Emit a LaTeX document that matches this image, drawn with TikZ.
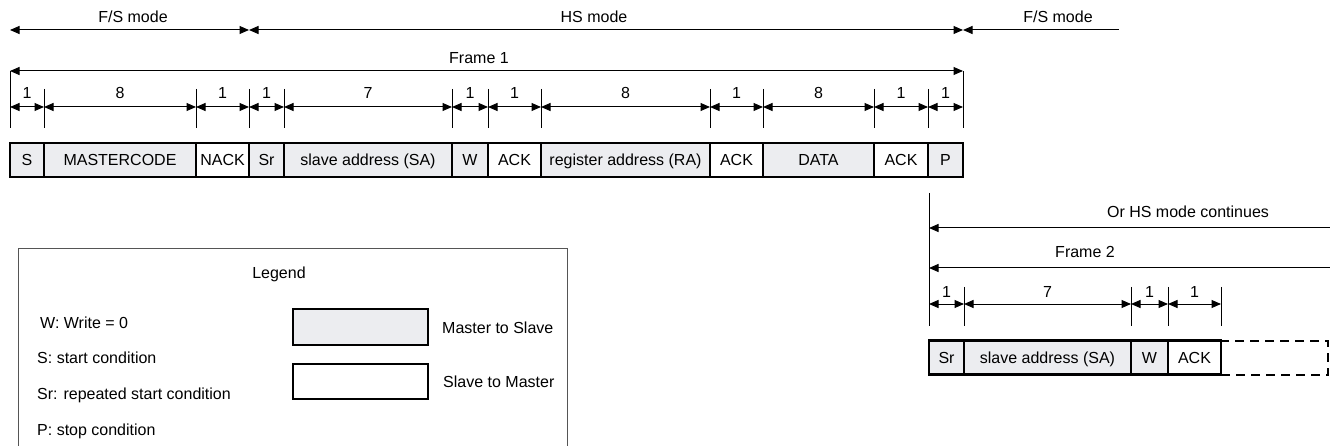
\documentclass[tikz,border=0pt]{standalone}
\usepackage{fontspec}
\setmainfont{Liberation Sans}
\usetikzlibrary{arrows.meta}
\definecolor{boxgray}{RGB}{236,237,240}
\definecolor{legline}{RGB}{85,85,85}
\begin{document}
\begin{tikzpicture}[x=1pt,y=-1pt,
  every node/.style={font=\fontsize{16}{19}\selectfont, inner sep=0pt},
  fieldbox/.style={draw=black, line width=2.4pt, text height=11.5pt, text depth=0pt, minimum height=34pt},
  mtos/.style={fieldbox, fill=boxgray},
  stom/.style={fieldbox, fill=white},
  openbox/.style={draw=black, line width=2pt, dash pattern=on 9pt off 6pt, minimum height=34pt},
  lbl/.style={anchor=base},
  lbll/.style={anchor=base west},
  dimline/.style={line width=1pt, {Triangle[length=9.5pt,width=8pt]}-{Triangle[length=9.5pt,width=8pt]}},
  leftarr/.style={line width=1pt, {Triangle[length=9.5pt,width=8pt]}-},
  tick/.style={line width=1pt}]
\useasboundingbox (0,0) rectangle (1330,446);

% ---------- mode arrows ----------
\coordinate (m0) at (10,30);
\coordinate (m1) at (249,30);
\coordinate (m2) at (963,30);
\coordinate (m3) at (1119,30);
\draw[dimline] (m0) -- (m1);
\draw[dimline] (m1) -- (m2);
\draw[leftarr] (m2) -- (m3);
\node[lbl] (fs1) at (133,23) {F/S mode};
\node[lbl] (hs) at (594,23) {HS mode};
\node[lbl] (fs2) at (1058,23) {F/S mode};

% ---------- frame 1 ----------
\coordinate (f1l) at (10,71);
\coordinate (f1r) at (963,71);
\draw[dimline] (f1l) -- (f1r);
\node[lbl] (fr1) at (479,63.5) {Frame 1};
\draw[tick] (f1l) -- (10,128);
\draw[tick] (f1r) -- (963,128);

% ticks and dimension arrows (frame 1)
\foreach \x [count=\i] in {10,44,196,249,284,452,488,541,710,763,874,928,963}{
  \coordinate (d\i) at (\x,107);
  \draw[tick] (\x,89) -- (\x,128);
}
\foreach \a/\b in {1/2,2/3,3/4,4/5,5/6,6/7,7/8,8/9,9/10,10/11,11/12,12/13}{
  \draw[dimline] (d\a) -- (d\b);
}
\foreach \c/\t [count=\i] in {27/1,120/8,222.5/1,266.5/1,368/7,470/1,514.5/1,625.5/8,736.5/1,818.5/8,901/1,945.5/1}{
  \node[lbl] (n\i) at (\c,98.5) {\t};
}

% ---------- frame 1 fields ----------
\node[mtos, minimum width=34pt]  (s)    at (27,160)    {S};
\node[mtos, minimum width=152pt] (mc)   at (120,160)   {MASTERCODE};
\node[stom, minimum width=53pt]  (nack) at (222.5,160) {NACK};
\node[mtos, minimum width=35pt]  (sr)   at (266.5,160) {Sr};
\node[mtos, minimum width=168pt] (sa)   at (368,160)   {slave address (SA)};
\node[mtos, minimum width=36pt]  (w)    at (470,160)   {W};
\node[stom, minimum width=53pt]  (ack1) at (514.5,160) {ACK};
\node[mtos, minimum width=169pt] (ra)   at (625.5,160) {register address (RA)};
\node[stom, minimum width=53pt]  (ack2) at (736.5,160) {ACK};
\node[mtos, minimum width=111pt] (data) at (818.5,160) {DATA};
\node[stom, minimum width=54pt]  (ack3) at (901,160)   {ACK};
\node[mtos, minimum width=35pt]  (p)    at (945.5,160) {P};

% ---------- frame 2 ----------
\coordinate (v0) at (929,193);
\coordinate (v1) at (929,326);
\draw[tick] (v0) -- (v1);
\coordinate (o0) at (929,228);
\coordinate (o1) at (1331,228);
\draw[leftarr] (o0) -- (o1);
\node[lbl] (ohs) at (1188,218) {Or HS mode continues};
\coordinate (g0) at (929,268);
\coordinate (g1) at (1331,268);
\draw[leftarr] (g0) -- (g1);
\node[lbl] (fr2) at (1085,257.5) {Frame 2};

\foreach \x [count=\i] in {929,964,1131,1168,1221}{
  \coordinate (e\i) at (\x,304);
  \draw[tick] (\x,287) -- (\x,326);
}
\foreach \a/\b in {1/2,2/3,3/4,4/5}{
  \draw[dimline] (e\a) -- (e\b);
}
\foreach \c/\t [count=\i] in {946.5/1,1047.5/7,1149.5/1,1194.5/1}{
  \node[lbl] (k\i) at (\c,297.5) {\t};
}

\node[mtos, minimum width=35pt]  (sr2)  at (946.5,357.5)  {Sr};
\node[mtos, minimum width=167pt] (sa2)  at (1047.5,357.5) {slave address (SA)};
\node[mtos, minimum width=37pt]  (w2)   at (1149.5,357.5) {W};
\node[stom, minimum width=53pt]  (ack4) at (1194.5,357.5) {ACK};
\node[openbox, minimum width=107pt] (more) at (1274.5,357.5) {};

% ---------- legend ----------
\draw[legline, line width=1pt] (18,447) -- (18,249) -- (567,249) -- (567,447);
\node[lbl] (leg) at (279,279) {Legend};
\node[lbll] (lw)  at (40,328.5) {W: Write = 0};
\node[lbll] (ls)  at (37,363.5) {S: start condition};
\node[lbll] (lsr) at (37,399.5) {Sr: repeated start condition};
\node[lbll] (lp)  at (37,435.5) {P: stop condition};
\node[mtos, minimum width=135pt, minimum height=36pt] (lgm) at (360.5,327) {};
\node[stom, minimum width=135pt, minimum height=35pt] (lgs) at (360.5,381.5) {};
\node[lbll] (lm2s) at (442,333.5) {Master to Slave};
\node[lbll] (ls2m) at (443,387.5) {Slave to Master};
\end{tikzpicture}
\end{document}
